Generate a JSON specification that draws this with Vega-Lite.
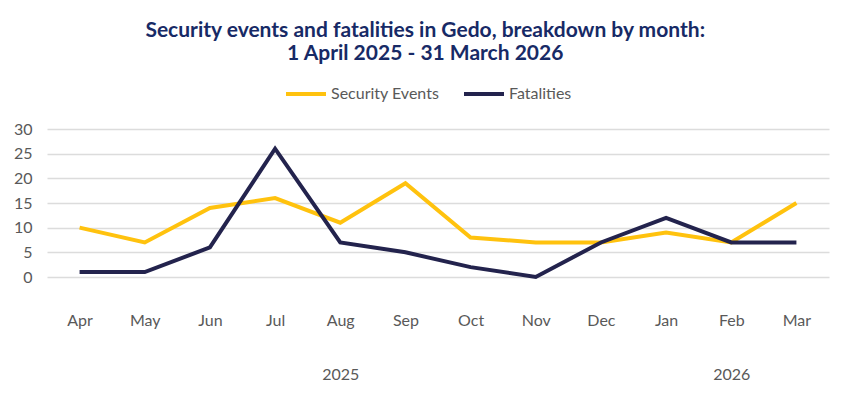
{
  "$schema": "https://vega.github.io/schema/vega-lite/v6.json",
  "width": 782,
  "height": 148,
  "autosize": {"type": "none"},
  "padding": {"left": 47, "top": 129, "right": 21, "bottom": 117},
  "background": "white",
  "title": {
    "text": ["Security events and fatalities in Gedo, breakdown by month:", "1 April 2025 - 31 March 2026"],
    "anchor": "middle",
    "frame": "bounds",
    "dx": 4,
    "font": "Lato",
    "fontSize": 21,
    "fontWeight": "bold",
    "color": "#172a66",
    "lineHeight": 23,
    "offset": 8
  },
  "data": {
    "values": [
      {"month": "Apr", "year": 2025, "series": "Security Events", "value": 10},
      {"month": "May", "year": 2025, "series": "Security Events", "value": 7},
      {"month": "Jun", "year": 2025, "series": "Security Events", "value": 14},
      {"month": "Jul", "year": 2025, "series": "Security Events", "value": 16},
      {"month": "Aug", "year": 2025, "series": "Security Events", "value": 11},
      {"month": "Sep", "year": 2025, "series": "Security Events", "value": 19},
      {"month": "Oct", "year": 2025, "series": "Security Events", "value": 8},
      {"month": "Nov", "year": 2025, "series": "Security Events", "value": 7},
      {"month": "Dec", "year": 2025, "series": "Security Events", "value": 7},
      {"month": "Jan", "year": 2026, "series": "Security Events", "value": 9},
      {"month": "Feb", "year": 2026, "series": "Security Events", "value": 7},
      {"month": "Mar", "year": 2026, "series": "Security Events", "value": 15},
      {"month": "Apr", "year": 2025, "series": "Fatalities", "value": 1},
      {"month": "May", "year": 2025, "series": "Fatalities", "value": 1},
      {"month": "Jun", "year": 2025, "series": "Fatalities", "value": 6},
      {"month": "Jul", "year": 2025, "series": "Fatalities", "value": 26},
      {"month": "Aug", "year": 2025, "series": "Fatalities", "value": 7},
      {"month": "Sep", "year": 2025, "series": "Fatalities", "value": 5},
      {"month": "Oct", "year": 2025, "series": "Fatalities", "value": 2},
      {"month": "Nov", "year": 2025, "series": "Fatalities", "value": 0},
      {"month": "Dec", "year": 2025, "series": "Fatalities", "value": 7},
      {"month": "Jan", "year": 2026, "series": "Fatalities", "value": 12},
      {"month": "Feb", "year": 2026, "series": "Fatalities", "value": 7},
      {"month": "Mar", "year": 2026, "series": "Fatalities", "value": 7}
    ]
  },
  "mark": {"type": "line", "strokeWidth": 4, "strokeJoin": "miter", "strokeCap": "butt"},
  "encoding": {
    "x": {
      "field": "month",
      "type": "ordinal",
      "sort": ["Apr", "May", "Jun", "Jul", "Aug", "Sep", "Oct", "Nov", "Dec", "Jan", "Feb", "Mar"],
      "scale": {"type": "point", "padding": 0.5},
      "axis": {
        "title": null,
        "domain": false,
        "ticks": false,
        "grid": false,
        "labelAngle": 0,
        "labelPadding": 35,
        "labelBaseline": "top",
        "labelLineHeight": 54,
        "labelExpr": "datum.value == 'Aug' ? ['Aug', '2025'] : datum.value == 'Feb' ? ['Feb', '2026'] : datum.value"
      }
    },
    "y": {
      "field": "value",
      "type": "quantitative",
      "scale": {"domain": [0, 30], "nice": false},
      "axis": {
        "title": null,
        "domain": false,
        "ticks": false,
        "values": [0, 5, 10, 15, 20, 25, 30],
        "labelPadding": 15,
        "gridColor": "#dcdcdc",
        "gridWidth": 1.5
      }
    },
    "color": {
      "field": "series",
      "type": "nominal",
      "sort": ["Security Events", "Fatalities"],
      "scale": {"domain": ["Security Events", "Fatalities"], "range": ["#ffc20e", "#23234d"]},
      "legend": {
        "title": null,
        "orient": "none",
        "legendX": 237,
        "legendY": -57,
        "direction": "horizontal",
        "symbolType": "stroke",
        "symbolStrokeWidth": 4,
        "symbolSize": 1600,
        "labelOffset": 3,
        "labelFontSize": 16,
        "labelColor": "#595959",
        "labelFont": "Lato",
        "columnPadding": 16
      }
    }
  },
  "config": {
    "view": {"stroke": null},
    "axis": {"labelFont": "Lato", "labelFontSize": 16, "labelColor": "#595959"}
  }
}
